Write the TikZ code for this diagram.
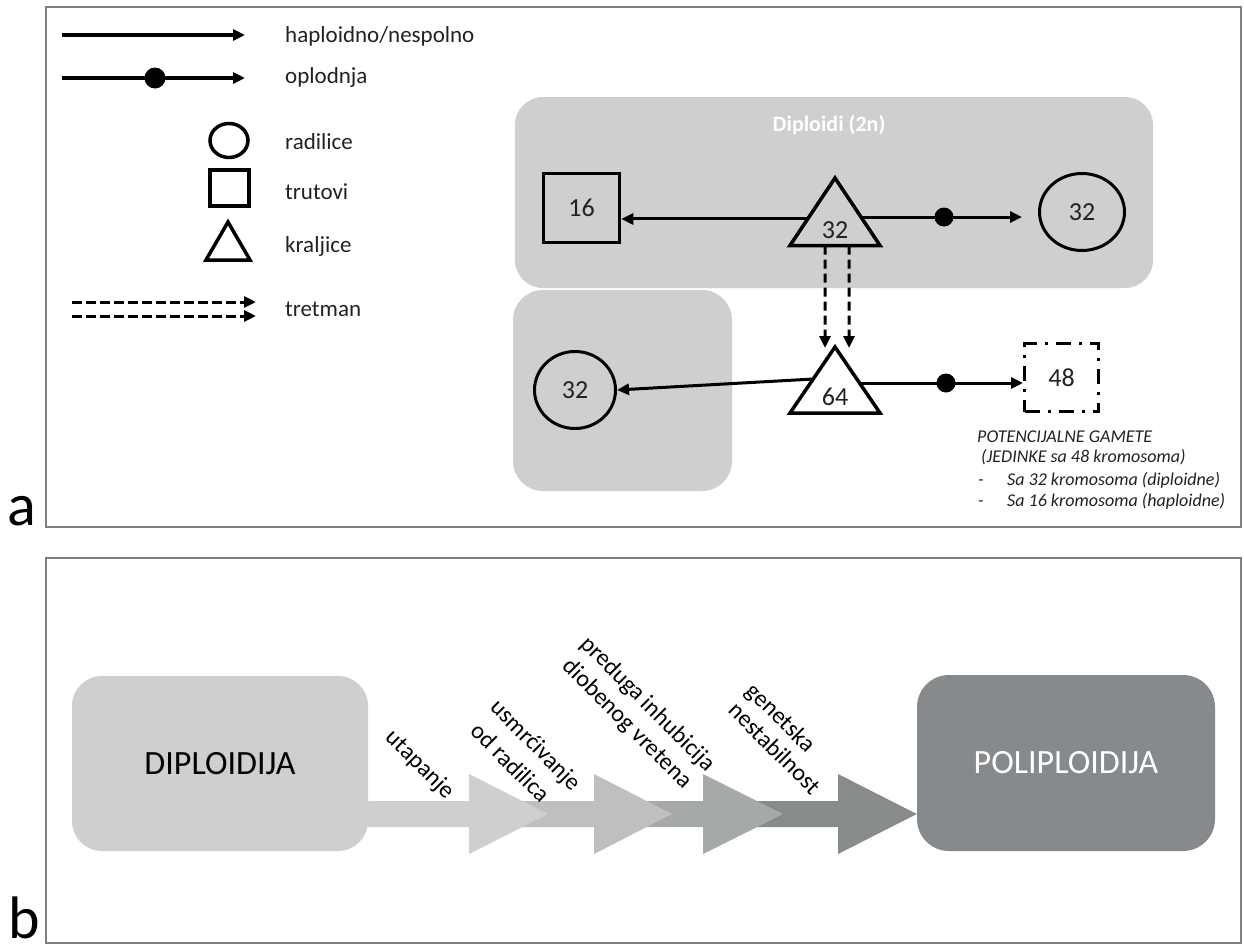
\documentclass[tikz,border=0pt]{standalone}
\usepackage{fontspec}
\setmainfont{Carlito}
\usetikzlibrary{arrows.meta,shapes.geometric,calc}
\definecolor{boxgray}{HTML}{D0CECE}
\definecolor{artwo}{HTML}{BFBFBF}
\definecolor{arthree}{HTML}{A6A9A9}
\definecolor{arfour}{HTML}{878B8C}
\definecolor{polyg}{HTML}{868A8C}
\definecolor{framegray}{HTML}{7F7F7F}
\definecolor{ink}{HTML}{222222}
\begin{document}
\begin{tikzpicture}[x=1pt,y=-1pt,
  frame/.style={draw=framegray,line width=1.5pt},
  region/.style={fill=boxgray,rounded corners=28pt,inner sep=0pt},
  conn/.style={line width=3pt,-{Triangle[length=12pt,width=11pt]}},
  treat/.style={line width=3pt,dash pattern=on 9pt off 5pt,-{Triangle[length=12pt,width=11pt]}},
  shp/.style={draw=black,line width=3pt,inner sep=0pt},
  tri/.style={draw=black,line width=3.5pt,line join=miter},
  num/.style={font=\fontsize{26}{30}\selectfont,text=ink},
  leg/.style={font=\fontsize{23}{27}\selectfont,text=ink,anchor=west,inner sep=0pt},
  note/.style={font=\itshape\fontsize{18}{21}\selectfont,text=ink,anchor=base west,inner sep=0pt},
  dotm/.style={circle,fill=black,minimum size=19pt,inner sep=0pt},
  step lbl/.style={font=\fontsize{24}{28}\selectfont,text=black,rotate=-45,inner sep=0pt},
  bigbox/.style={font=\fontsize{34}{40}\selectfont,inner sep=0pt,rounded corners=30pt},
  panel lbl/.style={font=\fontsize{60}{70}\selectfont,text=black,anchor=base,inner sep=0pt}
]
\useasboundingbox (0,0) rectangle (1244,945);
\fill[white] (0,0) rectangle (1244,945);

% ---------- frames ----------
\draw[frame] (46,7) rectangle (1241,527);
\draw[frame] (46,558) rectangle (1241,943);
\node[panel lbl] (pa) at (22,525) {a};
\node[panel lbl] (pb) at (24,938) {b};

% ---------- legend ----------
\coordinate (la1) at (62,35);  \coordinate (lb1) at (245,35);
\draw[conn,line width=3.5pt] (la1) -- (lb1);
\node[leg] (t1) at (285,36) {haploidno/nespolno};
\coordinate (la2) at (62,78);  \coordinate (lb2) at (245,78);
\draw[conn,line width=3.5pt] (la2) -- (lb2);
\node[dotm,minimum size=21pt] (ldot) at (155,78) {};
\node[leg] (t2) at (285,77) {oplodnja};

\node[shp,ellipse,line width=3.5pt,minimum width=38pt,minimum height=34pt] (lc) at (229,140.5) {};
\node[leg] (t3) at (285,142) {radilice};
\node[shp,line width=3.5pt,minimum width=39pt,minimum height=36pt] (ls) at (229.5,188) {};
\node[leg] (t4) at (285,191.5) {trutovi};
\coordinate (ltt) at (228,222); \coordinate (ltl) at (206,260); \coordinate (ltr) at (250,260);
\draw[tri] (ltt) -- (ltl) -- (ltr) -- cycle;
\node[leg] (t5) at (285,246) {kraljice};

\coordinate (la3) at (72,302); \coordinate (lb3) at (256,302);
\coordinate (la4) at (72,316); \coordinate (lb4) at (256,316);
\draw[treat,dash pattern=on 10pt off 4pt] (la3) -- (lb3);
\draw[treat,dash pattern=on 10pt off 4pt] (la4) -- (lb4);
\node[leg] (t6) at (285,309) {tretman};

% ---------- regions ----------
\node[region,minimum width=638pt,minimum height=191pt] (dipreg) at (834,192.5) {};
\node[font=\bfseries\fontsize{22}{26}\selectfont,text=white,inner sep=0pt] (diptitle) at (829,125) {Diploidi (2n)};
\node[region,rounded corners=30pt,minimum width=219pt,minimum height=201pt] (lowreg) at (622.5,390.5) {};

% ---------- shapes ----------
\node[shp,line width=3.5pt,num,minimum width=76pt,minimum height=69pt] (sq) at (581.5,208) {16};
\node[shp,ellipse,num,minimum width=85pt,minimum height=77pt] (c1) at (1082,212) {32};
\node[shp,ellipse,num,minimum width=81pt,minimum height=77pt] (c2) at (575,390) {32};
\node[shp,num,dash pattern=on 15pt off 8pt on 3pt off 8pt,minimum width=74pt,minimum height=68pt] (b48) at (1061.5,377.5) {48};

\coordinate (q1t) at (835,178); \coordinate (q1l) at (790,245.5); \coordinate (q1r) at (880,245.5);
\draw[tri] (q1t) -- (q1l) -- (q1r) -- cycle;
\node[num] (n32) at (835,230) {32};
\coordinate (q2t) at (835,347); \coordinate (q2l) at (790,413); \coordinate (q2r) at (880,413);
\draw[tri,fill=white] (q2t) -- (q2l) -- (q2r) -- cycle;
\node[num] (n64) at (835,397) {64};

% ---------- connectors ----------
\coordinate (q1w) at ($(q1l)!0.393!(q1t)$);
\coordinate (q1e) at ($(q1r)!0.422!(q1t)$);
\coordinate (q2w) at ($(q2l)!0.515!(q2t)$);
\coordinate (q2e) at ($(q2r)!0.4545!(q2t)$);

\draw[conn] (q1w) -- (q1w -| sq.east);
\draw[conn,shorten >=16pt] (q1e) -- (q1e -| c1.west);
\node[dotm] (dot1) at (944,217) {};

\draw[conn] (q2w) -- (c2.east);
\draw[conn] (q2e) -- (q2e -| b48.west);
\node[dotm] (dot2) at (946,383) {};

\coordinate (ds1) at ($(q1l)!0.389!(q1r)$);
\coordinate (ds2) at ($(q1l)!0.656!(q1r)$);
\coordinate (de1) at (825,348);
\coordinate (de2) at (849,348);
\draw[treat] (ds1) -- (de1);
\draw[treat] (ds2) -- (de2);

% ---------- note ----------
\node[note] (g1) at (977,442) {POTENCIJALNE GAMETE};
\node[note] (g2) at (981,462) {(JEDINKE sa 48 kromosoma)};
\node[note] (g3d) at (978,485) {-};
\node[note] (g3) at (1007,485) {Sa 32 kromosoma (diploidne)};
\node[note] (g4d) at (978,506) {-};
\node[note] (g4) at (1007,506) {Sa 16 kromosoma (haploidne)};

% ---------- panel b ----------
\node[bigbox,fill=boxgray,text=black,minimum width=296pt,minimum height=175pt] (dip) at (220,763.5) {DIPLOIDIJA};
\node[bigbox,fill=polyg,text=white,rounded corners=32pt,minimum width=298pt,minimum height=176pt] (poly) at (1066,763) {POLIPLOIDIJA};

\fill[arfour] (754,801) -- (838,801) -- (838,774) -- (poly.west |- 0,814) -- (838,854) -- (838,827) -- (754,827) -- cycle;
\fill[arthree] (645,801) -- (703,801) -- (703,774) -- (783,814) -- (703,854) -- (703,827) -- (645,827) -- cycle;
\fill[artwo] (523,801) -- (594,801) -- (594,774) -- (672,814) -- (594,854) -- (594,827) -- (523,827) -- cycle;
\fill[boxgray] ($(dip.east |- 0,801)+(-2,0)$) -- (469,801) -- (469,774) -- (548,814) -- (469,854) -- (469,827) -- ($(dip.east |- 0,827)+(-2,0)$) -- cycle;

\node[step lbl] (s1) at (419.5,765) {utapanje};
\node[step lbl] (s2a) at (535,746) {usmrćivanje};
\node[step lbl] (s2b) at (511,762.5) {od radilica};
\node[step lbl] (s3a) at (647.5,704.5) {preduga inhubicija};
\node[step lbl] (s3b) at (627,724) {diobenog vretena};
\node[step lbl] (s4a) at (780,718.5) {genetska};
\node[step lbl] (s4b) at (775,748) {nestabilnost};
\end{tikzpicture}
\end{document}
